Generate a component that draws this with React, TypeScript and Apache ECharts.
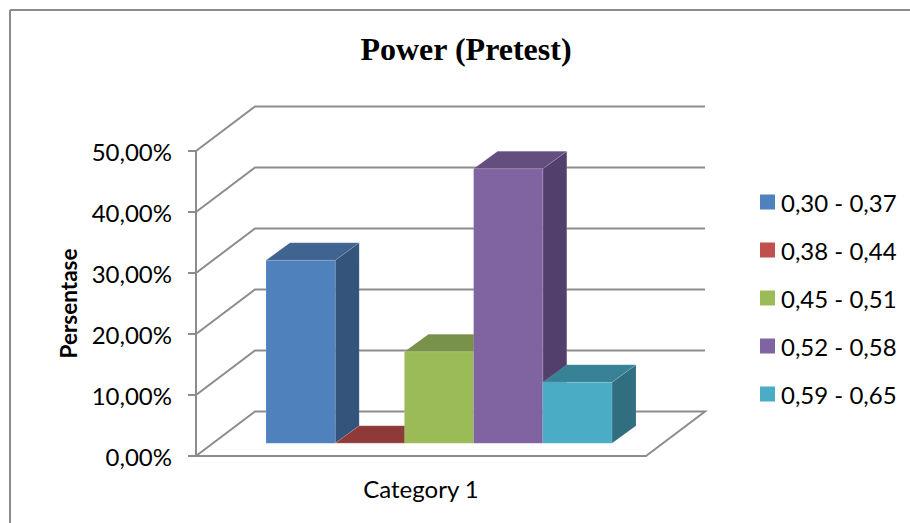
import React, { useEffect, useRef } from "react";
import * as echarts from "echarts";

const categories = ["Category 1"];
const seriesNames = ["0,30 - 0,37", "0,38 - 0,44", "0,45 - 0,51", "0,52 - 0,58", "0,59 - 0,65"];
const seriesValues = [30, 0, 15, 45, 10];
const gridTicks = [0, 10, 20, 30, 40, 50];
const frontColors = ["#4F81BD", "#C0504D", "#9BBB59", "#8064A2", "#4BACC6"];
const sideColors = ["#34547C", "#7E3533", "#657B3A", "#533F6C", "#316F80"];
const topColors = ["#3E648F", "#8E3A39", "#78924A", "#644E80", "#388295"];

const GRID = { left: 196, top: 151, width: 450, height: 305 };
const WALL_DX = 59;
const WALL_DY = -44.5;
const BAR_W = 69.2;
const BAR_DX = 24;
const BAR_DY = -17.5;
const BASE_DX = 18;
const BASE_DY = -12.7;
const LINE = "#8C8C8C";

function wallItem(params: any, api: any) {
  const v = api.value(0);
  const [, y] = api.coord([0, v]);
  const left = GRID.left;
  const right = GRID.left + GRID.width;
  const pts: number[][] = [
    [left, y],
    [left + WALL_DX, y + WALL_DY],
    [right + WALL_DX, y + WALL_DY],
  ];
  if (v === 0) pts.push([right, y]);
  return {
    type: "polyline",
    shape: { points: pts },
    style: { stroke: LINE, lineWidth: 2, fill: "none" },
    silent: true,
  };
}

function barItem(index: number) {
  return (params: any, api: any) => {
    const [cx, yTopRaw] = api.coord([api.value(0), api.value(1)]);
    const [, yBaseRaw] = api.coord([api.value(0), 0]);
    const x0 = cx + BASE_DX + (index - 2.5) * BAR_W;
    const x1 = x0 + BAR_W;
    const yTop = yTopRaw + BASE_DY;
    const yBase = yBaseRaw + BASE_DY;
    const edge = { stroke: "rgba(255,255,255,0.12)", lineWidth: 1 };
    return {
      type: "group",
      children: [
        {
          type: "polygon",
          shape: { points: [[x1, yTop], [x1 + BAR_DX, yTop + BAR_DY], [x1 + BAR_DX, yBase + BAR_DY], [x1, yBase]] },
          style: { fill: sideColors[index], ...edge },
        },
        {
          type: "polygon",
          shape: { points: [[x0, yTop], [x0 + BAR_DX, yTop + BAR_DY], [x1 + BAR_DX, yTop + BAR_DY], [x1, yTop]] },
          style: { fill: topColors[index], ...edge },
        },
        {
          type: "rect",
          shape: { x: x0, y: yTop, width: BAR_W, height: yBase - yTop },
          style: { fill: frontColors[index], ...edge },
        },
      ],
    };
  };
}

export default function App() {
  const ref = useRef<HTMLDivElement>(null);
  useEffect(() => {
    document.body.style.margin = "0";
    const chart = echarts.init(ref.current!, undefined, { renderer: "svg" });
    chart.setOption({
      animation: false,
      backgroundColor: "#FFFFFF",
      title: {
        text: "Power (Pretest)",
        left: 461,
        top: 28,
        textAlign: "center",
        textStyle: { fontFamily: "Liberation Serif", fontWeight: "bold", fontSize: 32, color: "#000" },
      },
      grid: { ...GRID },
      legend: {
        data: seriesNames,
        orient: "vertical",
        left: 755,
        top: 185,
        icon: "rect",
        itemWidth: 15,
        itemHeight: 15,
        itemGap: 24,
        selectedMode: false,
        textStyle: { fontFamily: "Lato", fontSize: 24, lineHeight: 24, color: "#000", padding: [0, 0, 0, 1] },
      },
      xAxis: {
        type: "category",
        data: categories,
        axisLine: { show: true, lineStyle: { color: LINE, width: 2 } },
        axisTick: { show: false },
        axisLabel: { fontFamily: "Lato", fontSize: 24, color: "#000", margin: 20 },
      },
      yAxis: {
        type: "value",
        min: 0,
        max: 50,
        interval: 10,
        name: "Persentase",
        nameLocation: "middle",
        nameRotate: 90,
        nameGap: 116,
        nameTextStyle: { fontFamily: "Lato", fontWeight: "bold", fontSize: 22.5, color: "#000" },
        axisLine: { show: true, lineStyle: { color: LINE, width: 2 } },
        axisTick: { show: true, length: 8, lineStyle: { color: LINE, width: 2 } },
        splitLine: { show: false },
        axisLabel: {
          fontFamily: "Lato",
          fontSize: 24,
          color: "#000",
          margin: 24,
          formatter: (v: number) => v.toFixed(2).replace(".", ",") + "%",
        },
      },
      graphic: [
        { type: "line", shape: { x1: 10, y1: 10, x2: 910, y2: 10 }, style: { stroke: "#8C8C8C", lineWidth: 2 } },
        { type: "line", shape: { x1: 10, y1: 10, x2: 10, y2: 523 }, style: { stroke: "#8C8C8C", lineWidth: 2 } },
      ],
      series: [
        {
          type: "custom",
          name: "walls",
          coordinateSystem: "cartesian2d",
          clip: false,
          silent: true,
          z: 1,
          data: gridTicks.map((t) => [t]),
          encode: { y: 0 },
          renderItem: wallItem,
        },
        ...seriesNames.map((name, i) => ({
          type: "custom",
          name,
          coordinateSystem: "cartesian2d",
          clip: false,
          z: 2 + i,
          itemStyle: { color: frontColors[i] },
          data: [[0, seriesValues[i]]],
          encode: { x: 0, y: 1 },
          renderItem: barItem(i),
        })),
      ],
    });
    return () => chart.dispose();
  }, []);
  return <div ref={ref} style={{ width: 910, height: 523 }} />;
}
